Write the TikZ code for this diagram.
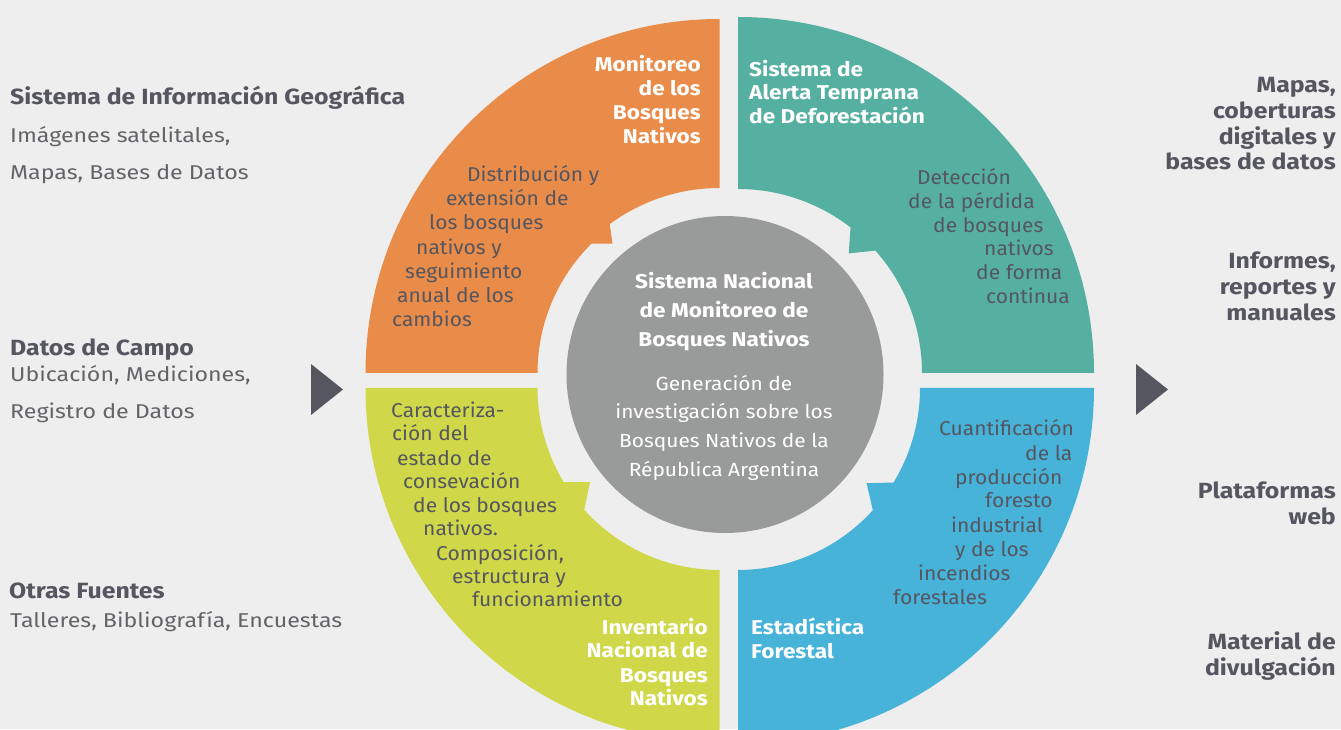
\documentclass[tikz,border=0pt]{standalone}
\usepackage{fontspec}
\setmainfont{Fira Sans}[BoldFeatures={FakeStretch=1.13}]
\newfontfamily\descfont{Fira Sans}[FakeStretch=1.05]
\newfontfamily\hubfont{Fira Sans}[FakeStretch=1.10]
\newfontfamily\srcfont{Fira Sans}[FakeStretch=1.16]
\definecolor{bg}{HTML}{EEEEEE}
\definecolor{qorange}{HTML}{E98C4A}
\definecolor{qteal}{HTML}{56B0A2}
\definecolor{qyellow}{HTML}{D0D84A}
\definecolor{qblue}{HTML}{47B3D9}
\definecolor{hub}{HTML}{999B9A}
\definecolor{ink}{HTML}{55565F}
\definecolor{softink}{HTML}{646468}
\tikzset{
  desc/.style={inner sep=0pt, anchor=base west, text=ink, font=\fontsize{20}{24}\descfont},
  qtitleL/.style={inner sep=0pt, anchor=base west, text=white, font=\fontsize{20}{24}\selectfont\bfseries},
  qtitleR/.style={inner sep=0pt, anchor=base east, text=white, font=\fontsize{20}{24}\selectfont\bfseries},
  hubtitle/.style={inner sep=0pt, anchor=base, text=white, font=\fontsize{20}{24}\selectfont\bfseries},
  hubtext/.style={inner sep=0pt, anchor=base, text=white, font=\fontsize{19}{24}\hubfont},
  srchead/.style={inner sep=0pt, anchor=base west, text=ink, font=\fontsize{22}{26}\selectfont\bfseries},
  srctext/.style={inner sep=0pt, anchor=base west, text=softink, font=\fontsize{20}{24}\srcfont},
  outhead/.style={inner sep=0pt, anchor=base east, text=ink, font=\fontsize{22}{26}\selectfont\bfseries},
  pointer/.style={fill=ink},
}
\begin{document}
\begin{tikzpicture}[x=1pt,y=1pt]
\useasboundingbox (0,0) rectangle (1341,729);
\fill[bg] (0,0) rectangle (1341,729);
\clip (0,0) rectangle (1341,729);

% ring quadrants, each with a small tooth on the inner edge
\begin{scope}[shift={(719.5,356)}]
  \fill[qorange] (180:354pt) arc[start angle=180,end angle=90,radius=354pt]
    -- (90:185pt) arc[start angle=90,end angle=126.4,radius=185pt]
    -- (129.6:168pt) -- (134.7:182pt)
    arc[start angle=134.7,end angle=180,radius=182pt] -- cycle;
\end{scope}
\begin{scope}[shift={(738,356)}]
  \fill[qteal] (90:356pt) arc[start angle=90,end angle=0,radius=356pt]
    -- (0:184pt) arc[start angle=0,end angle=41.7,radius=184pt]
    -- (47.2:163pt) -- (52.3:184pt)
    arc[start angle=52.3,end angle=90,radius=184pt] -- cycle;
\end{scope}
\begin{scope}[shift={(719.5,341)}]
  \fill[qyellow] (180:354pt) arc[start angle=180,end angle=270,radius=354pt]
    -- (270:182pt) arc[start angle=270,end angle=222,radius=182pt]
    -- (216:160pt) -- (211.1:182pt)
    arc[start angle=211.1,end angle=180,radius=182pt] -- cycle;
\end{scope}
\begin{scope}[shift={(738,341)}]
  \fill[qblue] (0:356pt) arc[start angle=0,end angle=-90,radius=356pt]
    -- (-90:182pt) arc[start angle=-90,end angle=-42.2,radius=182pt]
    -- (-36.5:160pt) -- (-31.3:182pt)
    arc[start angle=-31.3,end angle=0,radius=182pt] -- cycle;
\end{scope}

% central hub
\fill[hub] (725,354.5) circle[radius=158.5pt];
\node[hubtitle] (h1) at (724,440) {Sistema Nacional};
\node[hubtitle] (h2) at (724,411) {de Monitoreo de};
\node[hubtitle] (h3) at (724,382) {Bosques Nativos};
\node[hubtext] (h4) at (724,338) {Generación de};
\node[hubtext] (h5) at (724,310) {investigación sobre los};
\node[hubtext] (h6) at (724,281) {Bosques Nativos de la};
\node[hubtext] (h7) at (724,253) {Républica Argentina};

% quadrant titles
\foreach \txt/\yy [count=\i] in {Monitoreo/657, de los/633, Bosques/609, Nativos/585}
  \node[qtitleR] (ot\i) at (701,\yy) {\txt};
\foreach \txt/\yy [count=\i] in {Sistema de/652, Alerta Temprana/629, de Deforestación/605}
  \node[qtitleL] (tt\i) at (749,\yy) {\txt};
\foreach \txt/\yy [count=\i] in {Inventario/95, Nacional de/72, Bosques/47, Nativos/24}
  \node[qtitleR] (yt\i) at (708,\yy) {\txt};
\foreach \txt/\yy [count=\i] in {Estadística/95, Forestal/71}
  \node[qtitleL] (bt\i) at (751,\yy) {\txt};

% quadrant descriptions
\foreach \txt/\xx/\yy [count=\i] in {Distribución y/467/547, extensión de/446/523,
  los bosques/429/499, nativos y/416/474, seguimiento/405/450, anual de los/397/426,
  cambios/392/402}
  \node[desc] (od\i) at (\xx,\yy) {\txt};
\foreach \txt/\xx/\yy [count=\i] in {Detección/917/544, de la pérdida/908/520,
  de bosques/933/496, nativos/984/473, de forma/976/449, continua/986/425}
  \node[desc] (td\i) at (\xx,\yy) {\txt};
\foreach \txt/\xx/\yy [count=\i] in {Caracteriza-/391/311, ción del/392/288,
  estado de/397/264, consevación/403/241, de los bosques/413/217, nativos./423/194,
  {Composición,}/436/169, estructura y/452/146, funcionamiento/472/123}
  \node[desc] (yd\i) at (\xx,\yy) {\txt};
\foreach \txt/\xx/\yy [count=\i] in {Cuantificación/939/294, de la/1025/269,
  producción/955/245, foresto/985/222, industrial/951/197, y de los/955/173,
  incendios/918/149, forestales/893/125}
  \node[desc] (bd\i) at (\xx,\yy) {\txt};

% sources
\node[srchead] (s1) at (10,624) {Sistema de Información Geográfica};
\node[srctext] (s1a) at (10,586) {Imágenes satelitales,};
\node[srctext] (s1b) at (10,549) {Mapas, Bases de Datos};
\node[srchead] (s2) at (10,373) {Datos de Campo};
\node[srctext] (s2a) at (10,347) {Ubicación, Mediciones,};
\node[srctext] (s2b) at (10,310) {Registro de Datos};
\node[srchead] (s3) at (9,131) {Otras Fuentes};
\node[srctext] (s3a) at (10,102) {Talleres, Bibliografía, Encuestas};

% products
\foreach \txt/\yy [count=\i] in {{Mapas,}/636, coberturas/610, digitales y/584,
  bases de datos/559, {Informes,}/460, reportes y/434, manuales/408,
  Plataformas/231, web/205, Material de/80, divulgación/54}
  \node[outhead] (p\i) at (1336,\yy) {\txt};

% flow pointers
\fill[pointer] (311,365) -- (343,339.5) -- (311,314) -- cycle;
\fill[pointer] (1136,365) -- (1168,339.5) -- (1136,314) -- cycle;
\end{tikzpicture}
\end{document}
